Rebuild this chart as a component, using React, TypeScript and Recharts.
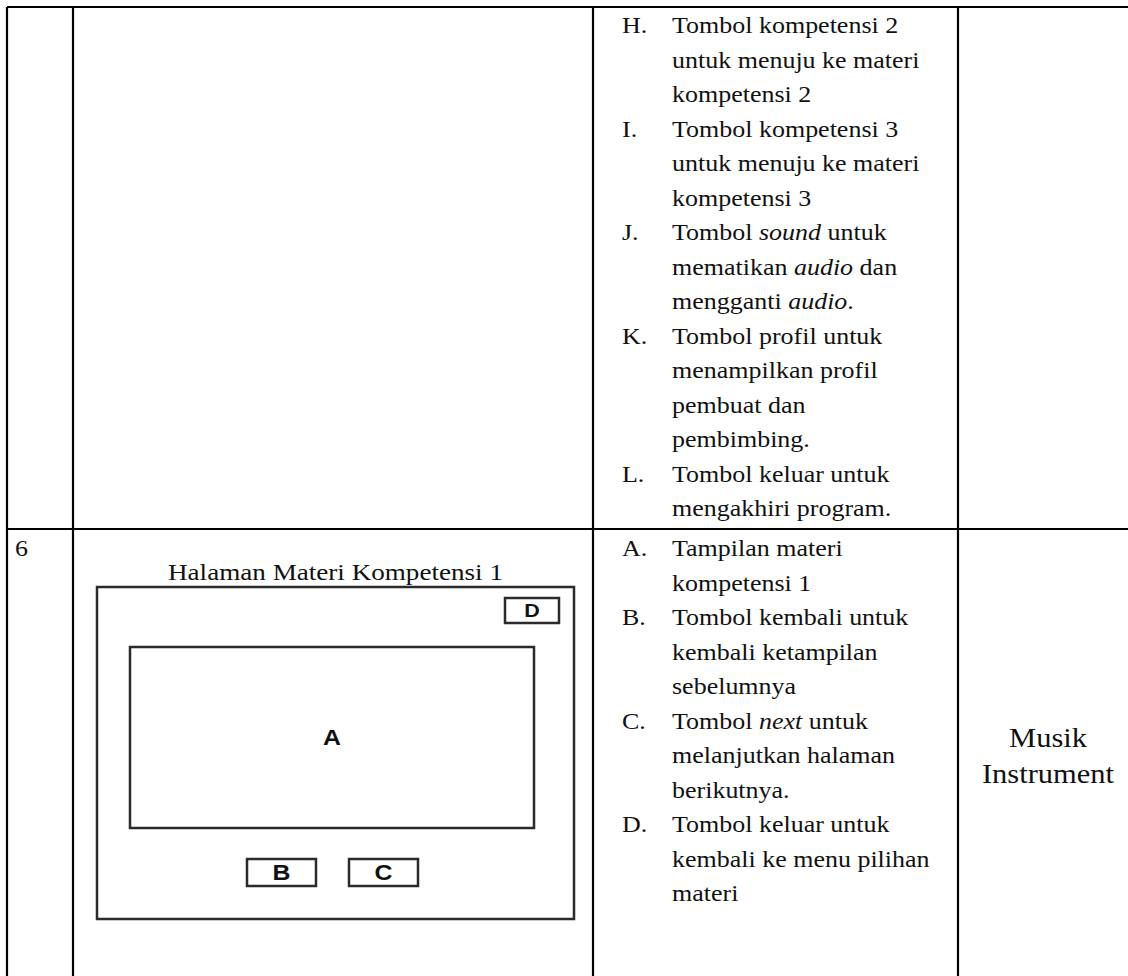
import { Surface, Rectangle, Layer } from 'recharts'

// rows of the storyboard table
const topItems = [
  { label: 'H.', lines: ['Tombol kompetensi 2', 'untuk menuju ke materi', 'kompetensi 2'] },
  { label: 'I.', lines: ['Tombol kompetensi 3', 'untuk menuju ke materi', 'kompetensi 3'] },
  { label: 'J.', lines: ['Tombol _sound_ untuk', 'mematikan _audio_ dan', 'mengganti _audio_.'] },
  { label: 'K.', lines: ['Tombol profil untuk', 'menampilkan profil', 'pembuat dan', 'pembimbing.'] },
  { label: 'L.', lines: ['Tombol keluar untuk', 'mengakhiri program.'] },
]

const bottomItems = [
  { label: 'A.', lines: ['Tampilan materi', 'kompetensi 1'] },
  { label: 'B.', lines: ['Tombol kembali untuk', 'kembali ketampilan', 'sebelumnya'] },
  { label: 'C.', lines: ['Tombol _next_ untuk', 'melanjutkan halaman', 'berikutnya.'] },
  { label: 'D.', lines: ['Tombol keluar untuk', 'kembali ke menu pilihan', 'materi'] },
]

const rowNumber = '6'
const screenTitle = 'Halaman Materi Kompetensi 1'
const themeLines = ['Musik', 'Instrument']

const W = 1128
const H = 976
const SX = 1.13 // the scan is a bit wider than tall
const SERIF = '"Liberation Serif", "Times New Roman", serif'
const SANS = '"Liberation Sans", Arial, sans-serif'

// table grid
const TOP = 7
const LEFT = 7
const COL_NUM = 73
const COL_DESC = 593
const COL_THEME = 958
const ROW_SPLIT = 529
const LINE_H = 34.5

function Rich({ text }: { text: string }) {
  const parts = text.split('_')
  return (
    <>
      {parts.map((p, i) => (
        <tspan key={i} fontStyle={i % 2 ? 'italic' : 'normal'}>
          {p}
        </tspan>
      ))}
    </>
  )
}

function Txt({
  x,
  y,
  size,
  anchor = 'start',
  family = SERIF,
  weight = 'normal',
  children,
}: {
  x: number
  y: number
  size: number
  anchor?: 'start' | 'middle' | 'end'
  family?: string
  weight?: string
  children: React.ReactNode
}) {
  return (
    <text
      transform={`translate(${x} ${y}) scale(${SX} 1)`}
      fontSize={size}
      fontFamily={family}
      fontWeight={weight}
      textAnchor={anchor}
      fill="#111"
    >
      {children}
    </text>
  )
}

function ItemList({ items, firstBaseline }: { items: typeof topItems; firstBaseline: number }) {
  let row = 0
  return (
    <Layer>
      {items.map((it) => {
        const start = row
        row += it.lines.length
        return (
          <Layer key={it.label}>
            <Txt x={622} y={firstBaseline + start * LINE_H} size={23}>
              {it.label}
            </Txt>
            {it.lines.map((ln, j) => (
              <Txt key={j} x={672} y={firstBaseline + (start + j) * LINE_H} size={23}>
                <Rich text={ln} />
              </Txt>
            ))}
          </Layer>
        )
      })}
    </Layer>
  )
}

function Box({ x, y, w, h, label, size }: { x: number; y: number; w: number; h: number; label?: string; size?: number }) {
  const s = size ?? 20
  return (
    <Layer>
      <Rectangle x={x} y={y} width={w} height={h} fill="none" stroke="#2b2b2b" strokeWidth={2.5} />
      {label && (
        <Txt x={x + w / 2} y={y + h / 2 + s * 0.36} size={s} anchor="middle" family={SANS} weight="bold">
          {label}
        </Txt>
      )}
    </Layer>
  )
}

export default function App() {
  const grid = { stroke: '#000', strokeWidth: 2.2 }
  return (
    <div style={{ position: 'absolute', left: 0, top: 0, width: W, height: H, background: '#fff', overflow: 'hidden' }}>
      <Surface width={W} height={H}>
        {/* table lines */}
        <line x1={LEFT} y1={TOP} x2={W} y2={TOP} {...grid} />
        <line x1={LEFT} y1={ROW_SPLIT} x2={W} y2={ROW_SPLIT} {...grid} />
        {[LEFT, COL_NUM, COL_DESC, COL_THEME].map((x) => (
          <line key={x} x1={x} y1={TOP} x2={x} y2={H} {...grid} />
        ))}

        <ItemList items={topItems} firstBaseline={TOP + 26} />
        <ItemList items={bottomItems} firstBaseline={ROW_SPLIT + 27} />

        <Txt x={15} y={ROW_SPLIT + 27} size={23}>
          {rowNumber}
        </Txt>

        {/* screen sketch */}
        <Txt x={335.5} y={580} size={24} anchor="middle">
          {screenTitle}
        </Txt>
        <Box x={97} y={587} w={477} h={332} />
        <Box x={505} y={598} w={54} h={25} label="D" size={19} />
        <Box x={130} y={647} w={404} h={181} label="A" size={22} />
        <Box x={247} y={859} w={69} h={27} label="B" size={22} />
        <Box x={349} y={859} w={69} h={27} label="C" size={22} />

        {themeLines.map((t, i) => (
          <Txt key={t} x={1048} y={747 + i * 36} size={27} anchor="middle">
            {t}
          </Txt>
        ))}
      </Surface>
    </div>
  )
}
